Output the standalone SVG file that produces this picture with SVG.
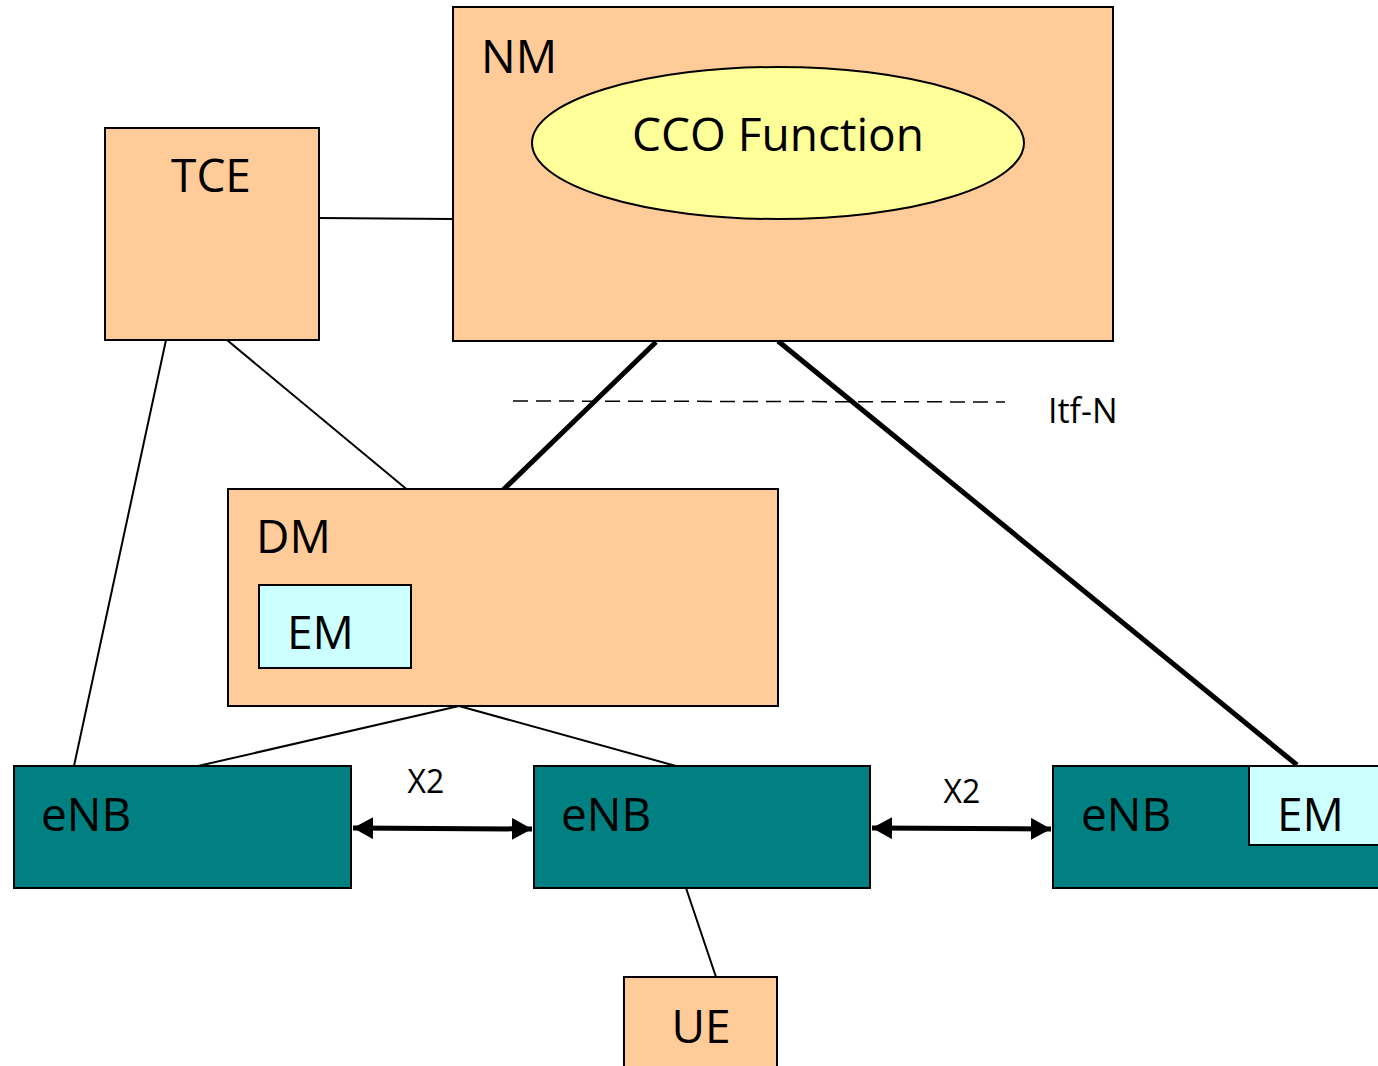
<svg xmlns="http://www.w3.org/2000/svg" width="1378" height="1066" viewBox="0 0 1378 1066">
<style>
.box{stroke:#000;stroke-width:2}
.peach{fill:#FFCC99}
.teal{fill:#008080}
.cyan{fill:#CCFFFF}
.t{font-family:"Open Sans","Noto Sans","DejaVu Sans",sans-serif;font-size:46px;fill:#000}
.s{font-family:"Open Sans","Noto Sans","DejaVu Sans",sans-serif;font-size:32px;fill:#000}
.ln{stroke:#000;stroke-width:2;fill:none}
.thick{stroke:#000;stroke-width:5;fill:none}
</style>
<defs>
<marker id="ah" markerUnits="userSpaceOnUse" markerWidth="20" markerHeight="22" viewBox="0 0 20 22" refX="20" refY="11" orient="auto-start-reverse">
<path d="M0,0 L20,11 L0,22 Z" fill="#000"/>
</marker>
</defs>
<rect width="1378" height="1066" fill="#fff"/>
<g id="connectors">
<line class="ln" x1="319" y1="218" x2="453" y2="219"/>
<line class="ln" x1="166" y1="340" x2="74" y2="766"/>
<line class="ln" x1="227" y1="340" x2="410" y2="492"/>
<line class="thick" x1="656" y1="342" x2="503" y2="490"/>
<line class="thick" x1="778" y1="341" x2="1297" y2="765"/>
<line x1="513" y1="401" x2="1005" y2="402" stroke="#000" stroke-width="1.5" stroke-dasharray="15,8"/>
<line class="ln" x1="459" y1="706" x2="198" y2="766"/>
<line class="ln" x1="459" y1="706" x2="676" y2="766"/>
<line class="ln" x1="686" y1="888" x2="716" y2="977"/>
<line class="thick" x1="353" y1="828" x2="532" y2="829" marker-start="url(#ah)" marker-end="url(#ah)"/>
<line class="thick" x1="872" y1="828" x2="1051" y2="829" marker-start="url(#ah)" marker-end="url(#ah)"/>
<text class="s" x="426" y="793" text-anchor="middle">X2</text>
<text class="s" x="962" y="803" text-anchor="middle">X2</text>
<text class="s" x="1048" y="423" style="font-size:34px">Itf-N</text>
</g>
<g id="nm">
<rect class="box peach" x="453" y="7" width="660" height="334"/>
<text class="t" x="481" y="73">NM</text>
</g>
<g id="cco">
<ellipse cx="778" cy="143" rx="246" ry="76" fill="#FFFF99" stroke="#000" stroke-width="2"/>
<text class="t" x="778" y="151" text-anchor="middle">CCO Function</text>
</g>
<g id="tce">
<rect class="box peach" x="105" y="128" width="214" height="212"/>
<text class="t" x="211" y="192" text-anchor="middle">TCE</text>
</g>
<g id="dm">
<rect class="box peach" x="228" y="489" width="550" height="217"/>
<text class="t" x="256" y="553">DM</text>
</g>
<g id="em-dm">
<rect class="box cyan" x="259" y="585" width="152" height="83"/>
<text class="t" x="287" y="649">EM</text>
</g>
<g id="enb1">
<rect class="box teal" x="14" y="766" width="337" height="122"/>
<text class="t" x="41" y="831">eNB</text>
</g>
<g id="enb2">
<rect class="box teal" x="534" y="766" width="336" height="122"/>
<text class="t" x="561" y="831">eNB</text>
</g>
<g id="enb3">
<rect class="box teal" x="1053" y="766" width="340" height="122"/>
<text class="t" x="1081" y="831">eNB</text>
</g>
<g id="em-enb">
<rect class="box cyan" x="1249" y="766" width="140" height="79"/>
<text class="t" x="1277" y="831">EM</text>
</g>
<g id="ue">
<rect class="box peach" x="624" y="977" width="153" height="100"/>
<text class="t" x="701" y="1043" text-anchor="middle">UE</text>
</g>
</svg>
